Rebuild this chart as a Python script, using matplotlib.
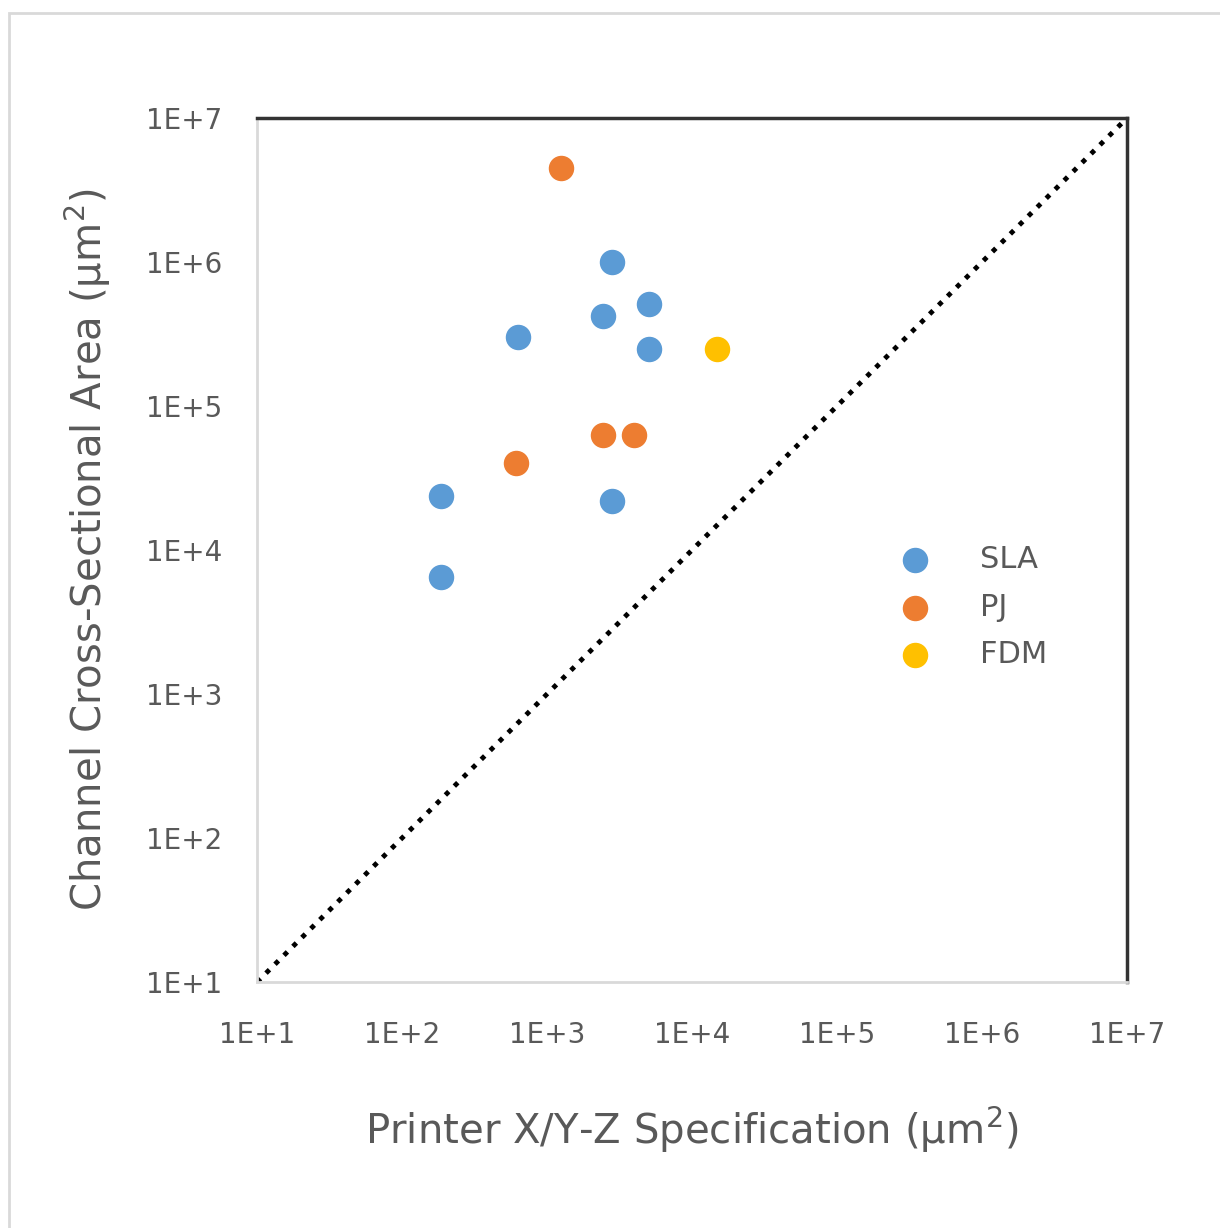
import matplotlib
matplotlib.use('Agg')
import matplotlib.pyplot as plt
from matplotlib.patches import Rectangle

# printer spec (x) vs channel area (y), um^2
sla_x = [2800, 5050, 2430, 630, 5050, 186, 2800, 186]
sla_y = [1.0e6, 5.1e5, 4.2e5, 3.0e5, 2.5e5, 2.37e4, 2.2e4, 6.5e3]
pj_x = [1250, 2430, 3980, 611]
pj_y = [4.5e6, 6.3e4, 6.3e4, 4.0e4]
fdm_x = [14900]
fdm_y = [2.5e5]

ticks = [1e1, 1e2, 1e3, 1e4, 1e5, 1e6, 1e7]
tick_labels = ['1E+1', '1E+2', '1E+3', '1E+4', '1E+5', '1E+6', '1E+7']

grey = '#595959'

fig = plt.figure(figsize=(12.2, 12.28), dpi=100)
ax = fig.add_axes([0.2107, 0.2003, 0.7131, 0.7036])

ax.plot([1e1, 1e7], [1e1, 1e7], color='black', linestyle=(0, (1, 1.6)), linewidth=3.5, zorder=1)

ax.scatter(sla_x, sla_y, s=300, color='#5B9BD5', label='SLA', zorder=3)
ax.scatter(pj_x, pj_y, s=300, color='#ED7D31', label='PJ', zorder=3)
ax.scatter(fdm_x, fdm_y, s=300, color='#FFC000', label='FDM', zorder=3)

ax.set_xscale('log')
ax.set_yscale('log')
ax.set_xlim(1e1, 1e7)
ax.set_ylim(1e1, 1e7)
ax.set_xticks(ticks)
ax.set_xticklabels(tick_labels)
ax.set_yticks(ticks)
ax.set_yticklabels(tick_labels)
ax.minorticks_off()
ax.tick_params(axis='both', length=0, labelsize=20, labelcolor=grey)
ax.tick_params(axis='x', pad=28)
ax.tick_params(axis='y', pad=25)

ax.spines['top'].set_color('#333333')
ax.spines['right'].set_color('#333333')
ax.spines['top'].set_linewidth(2.5)
ax.spines['right'].set_linewidth(2.5)
ax.spines['left'].set_color('#D9D9D9')
ax.spines['bottom'].set_color('#D9D9D9')
ax.spines['left'].set_linewidth(2)
ax.spines['bottom'].set_linewidth(2)

ax.set_xlabel('Printer X/Y-Z Specification (µm$^2$)', fontsize=29, color=grey, labelpad=40)
ax.set_ylabel('Channel Cross-Sectional Area (µm$^2$)', fontsize=29, color=grey, labelpad=24)

ax.legend(loc='center left', bbox_to_anchor=(0.69, 0.434), frameon=False, fontsize=22,
          labelcolor=grey, handletextpad=1.1, labelspacing=0.6, markerscale=1.0)

# outer chart frame (only top/left visible in the crop)
fig.add_artist(Rectangle((0.0074, -0.05), 1.1, 1.0394, transform=fig.transFigure,
                         fill=False, edgecolor='#D9D9D9', linewidth=2))

fig.savefig('out.png', dpi=100, facecolor='white')
